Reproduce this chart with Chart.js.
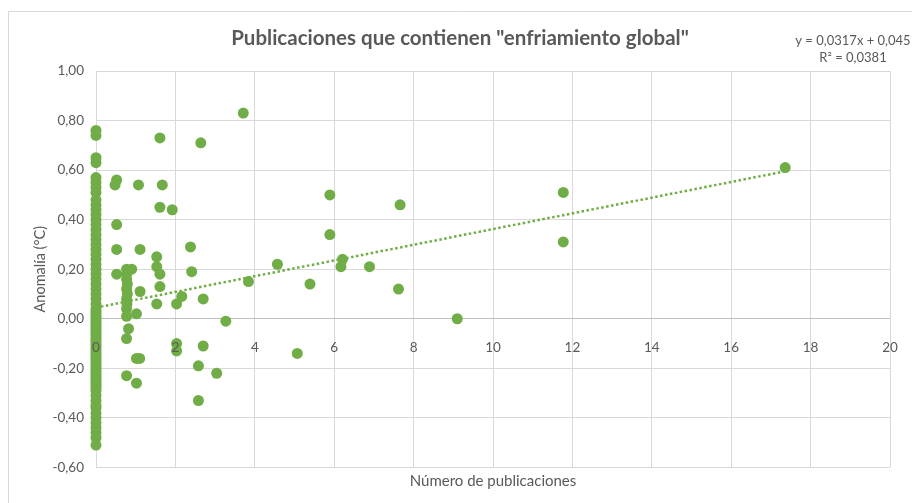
<!DOCTYPE html>
<html>
<head>
<meta charset="utf-8">
<script src="https://cdn.jsdelivr.net/npm/chart.js@4.4.1/dist/chart.umd.min.js"></script>
<style>
  html, body { margin: 0; padding: 0; background: #fff; }
  #wrap { width: 912px; height: 503px; }
</style>
</head>
<body>
<div id="wrap"><canvas id="myChart" width="912" height="503"></canvas></div>
<script>
// years with no publication (x = 0)
var zeroPubAnomaly = [-0.51, -0.48, -0.46, -0.44, -0.42, -0.40, -0.38, -0.36, -0.35, -0.33, -0.31, -0.29,
    -0.28, -0.27, -0.26, -0.25, -0.24, -0.23, -0.22, -0.21, -0.20, -0.19, -0.18, -0.17, -0.16, -0.15,
    -0.14, -0.13, -0.12, -0.11, -0.10, -0.09, -0.08, -0.07, -0.06, -0.05, -0.04, -0.03, -0.02, -0.01,
    0.00, 0.01, 0.02, 0.03, 0.04, 0.06, 0.08, 0.10, 0.12, 0.14, 0.16, 0.18, 0.20, 0.22, 0.24, 0.26,
    0.28, 0.30, 0.32, 0.34, 0.36, 0.38, 0.40, 0.42, 0.44, 0.46, 0.48, 0.51, 0.53, 0.55, 0.57, 0.63,
    0.65, 0.74, 0.76];

// years with publications
var pubs = [0.52, 0.48, 1.07, 1.61, 1.67, 1.61, 1.92, 0.52, 0.52, 1.11, 1.53, 1.53, 1.61, 0.52,
    0.77, 0.90, 0.77, 0.77, 0.79, 0.77, 0.79, 0.77, 0.78, 0.77, 0.77, 0.82, 0.77, 1.02, 1.10, 0.77,
    1.02, 1.02, 1.11, 1.53, 1.61, 2.03, 2.16, 2.70, 2.41, 2.38, 2.03, 2.03, 2.70, 2.58, 3.04, 2.58,
    3.71, 2.64, 4.57, 3.84, 3.27, 5.89, 7.66, 5.89, 6.21, 6.17, 6.89, 5.39, 7.62, 9.10, 5.07,
    11.77, 11.77, 17.36];
var anomaly = [0.56, 0.54, 0.54, 0.73, 0.54, 0.45, 0.44, 0.38, 0.28, 0.28, 0.25, 0.21, 0.18, 0.18,
    0.20, 0.20, 0.18, 0.16, 0.14, 0.12, 0.10, 0.08, 0.06, 0.04, 0.01, -0.04, -0.08, -0.16, -0.16, -0.23,
    -0.26, 0.02, 0.11, 0.06, 0.13, 0.06, 0.09, 0.08, 0.19, 0.29, -0.10, -0.13, -0.11, -0.19, -0.22, -0.33,
    0.83, 0.71, 0.22, 0.15, -0.01, 0.50, 0.46, 0.34, 0.24, 0.21, 0.21, 0.14, 0.12, 0.00, -0.14,
    0.51, 0.31, 0.61];

var trendSlope = 0.0317;
var trendIntercept = 0.045;
var xTicks = [0, 2, 4, 6, 8, 10, 12, 14, 16, 18, 20];
var yTicks = [-0.6, -0.4, -0.2, 0, 0.2, 0.4, 0.6, 0.8, 1.0];

var green = '#70AD47';
var gray = '#595959';
var font = 'Lato, Calibri, "Open Sans", sans-serif';

var points = zeroPubAnomaly.map(function(v) { return {x: 0, y: v}; });
pubs.forEach(function(p, i) { points.push({x: p, y: anomaly[i]}); });

var maxPub = Math.max.apply(null, pubs);
var trend = [0, maxPub].map(function(x) { return {x: x, y: trendIntercept + trendSlope * x}; });

function comma(v, d) { return v.toFixed(d).replace('.', ','); }

var frame = {
    id: 'frame',
    beforeDraw: function(chart) {
        var c = chart.ctx;
        c.save();
        c.fillStyle = '#fff';
        c.fillRect(0, 0, chart.width, chart.height);
        c.strokeStyle = '#d9d9d9';
        c.lineWidth = 1;
        c.beginPath();
        c.moveTo(8.5, chart.height);
        c.lineTo(8.5, 11.5);
        c.lineTo(chart.width, 11.5);
        c.stroke();
        c.restore();
    },
    afterDraw: function(chart) {
        var c = chart.ctx;
        c.save();
        c.fillStyle = gray;
        c.textAlign = 'center';
        c.textBaseline = 'middle';
        // chart title, centred like the reference
        c.font = 'bold 20.5px ' + font;
        c.fillText('Publicaciones que contienen "enfriamiento global"', 460, 38);
        c.font = '13px ' + font;
        c.fillText('y = ' + comma(trendSlope, 4) + 'x + ' + comma(trendIntercept, 3), 853, 41);
        c.fillText('R² = 0,0381', 853, 58);
        c.restore();
    }
};

var chr = document.getElementById('myChart').getContext('2d');
var myChart = new Chart(chr, {
    type: 'scatter',
    data: {
        datasets: [{
            label: 'Tendencia',
            type: 'line',
            data: trend,
            borderColor: green,
            borderWidth: 2.5,
            borderDash: [2.5, 2.5],
            pointRadius: 0,
            fill: false,
            order: 0
        }, {
            label: 'Anomalía',
            data: points,
            backgroundColor: green,
            borderWidth: 0,
            pointRadius: 5.5,
            clip: false,
            order: 1
        }]
    },
    options: {
        responsive: false,
        animation: false,
        layout: { padding: { top: 71, left: 0, right: 22, bottom: 0 } },
        plugins: {
            legend: { display: false },
            tooltip: { enabled: false },
            title: { display: false }
        },
        scales: {
            x: {
                type: 'linear',
                position: 'bottom',
                min: 0, max: 20,
                afterBuildTicks: function(s) { s.ticks = xTicks.map(function(v) { return {value: v}; }); },
                grid: { color: '#d9d9d9', drawTicks: false },
                border: { display: false },
                ticks: { display: false },
                title: {
                    display: true,
                    text: 'Número de publicaciones',
                    color: gray,
                    font: { family: font, size: 15 },
                    padding: { top: 4.6, bottom: 13 }
                }
            },
            xl: {
                type: 'linear',
                axis: 'x',
                position: { y: 0 },
                min: 0, max: 20,
                afterBuildTicks: function(s) { s.ticks = xTicks.map(function(v) { return {value: v}; }); },
                grid: { display: false },
                border: { display: false },
                ticks: { z: 1, color: gray, padding: 13, font: { family: font, size: 13.5 } }
            },
            y: {
                type: 'linear',
                min: -0.6, max: 1,
                afterBuildTicks: function(s) { s.ticks = yTicks.map(function(v) { return {value: v}; }); },
                afterFit: function(s) { s.width = 96; },
                grid: {
                    drawTicks: false,
                    color: function(ctx) { return ctx.tick && Math.abs(ctx.tick.value) < 1e-9 ? '#bfbfbf' : '#d9d9d9'; }
                },
                border: { color: '#d9d9d9' },
                ticks: {
                    color: gray,
                    padding: 12,
                    font: { family: font, size: 13.5 },
                    callback: function(v) { return comma(v, 2); }
                },
                title: {
                    display: true,
                    text: 'Anomalía (°C)',
                    color: gray,
                    font: { family: font, size: 14.5 },
                    padding: { top: 31.3, bottom: 0 }
                }
            }
        }
    },
    plugins: [frame]
});
</script>
</body>
</html>
